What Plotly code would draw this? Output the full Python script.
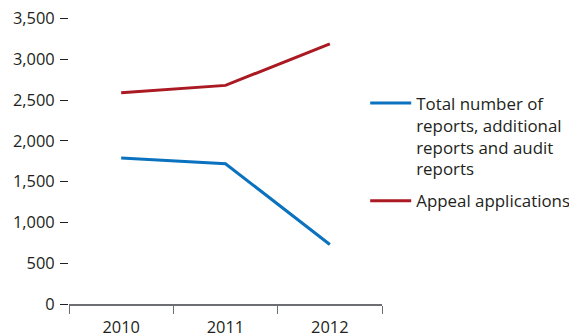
import plotly.graph_objects as go

years = ["2010", "2011", "2012"]
reports = [1790, 1720, 730]
appeals = [2590, 2680, 3190]
series_names = ["Total number of<br>reports, additional<br>reports and audit<br>reports", "Appeal applications"]
yticks = [0, 500, 1000, 1500, 2000, 2500, 3000, 3500]

FONT = "Open Sans"
W, H = 577, 326
ML, MR, MT, MB = 61.3, 202.7, 0, 30
PW = W - ML - MR
PH = H - MT - MB
TOP_GAP = 10.5

fig = go.Figure()
fig.add_trace(go.Scatter(x=years, y=reports, mode="lines", name=series_names[0],
                         legendgroup="a",
                         line=dict(color="#0a72bf", width=3)))
fig.add_trace(go.Scatter(x=years, y=appeals, mode="lines", name=series_names[1],
                         legendgroup="b",
                         line=dict(color="#ab1a22", width=3)))

fig.update_layout(
    template="none",
    width=W, height=H,
    margin=dict(l=ML, r=MR, t=MT, b=MB, pad=0),
    paper_bgcolor="white", plot_bgcolor="white",
    font=dict(family=FONT, size=16.4, color="#231f20"),
    showlegend=True,
    legend=dict(x=(357.5 - ML) / PW, xanchor="left", y=1 - 77.5 / PH, yanchor="top",
                font=dict(size=16.9), tracegroupgap=7, itemwidth=41,
                valign="top", bgcolor="rgba(0,0,0,0)", borderwidth=0),
)
fig.update_xaxes(type="category", range=[-0.5, 2.5], tickson="boundaries",
                 automargin=False, ticklabelstandoff=8, ticklabeloverflow="allow",
                 ticks="outside", ticklen=8, tickcolor="#6d6e71", tickwidth=1,
                 showline=True, linecolor="#6d6e71", linewidth=1.5,
                 showgrid=False, zeroline=False)
fig.update_yaxes(range=[0, 3500], tickvals=yticks, tickformat=",d",
                 domain=[0, 1 - TOP_GAP / PH],
                 automargin=False, ticklabelstandoff=2, ticklabeloverflow="allow",
                 ticks="outside", ticklen=8, tickcolor="#231f20", tickwidth=1,
                 showline=False, showgrid=False, zeroline=False)

fig.write_html("out.html")
